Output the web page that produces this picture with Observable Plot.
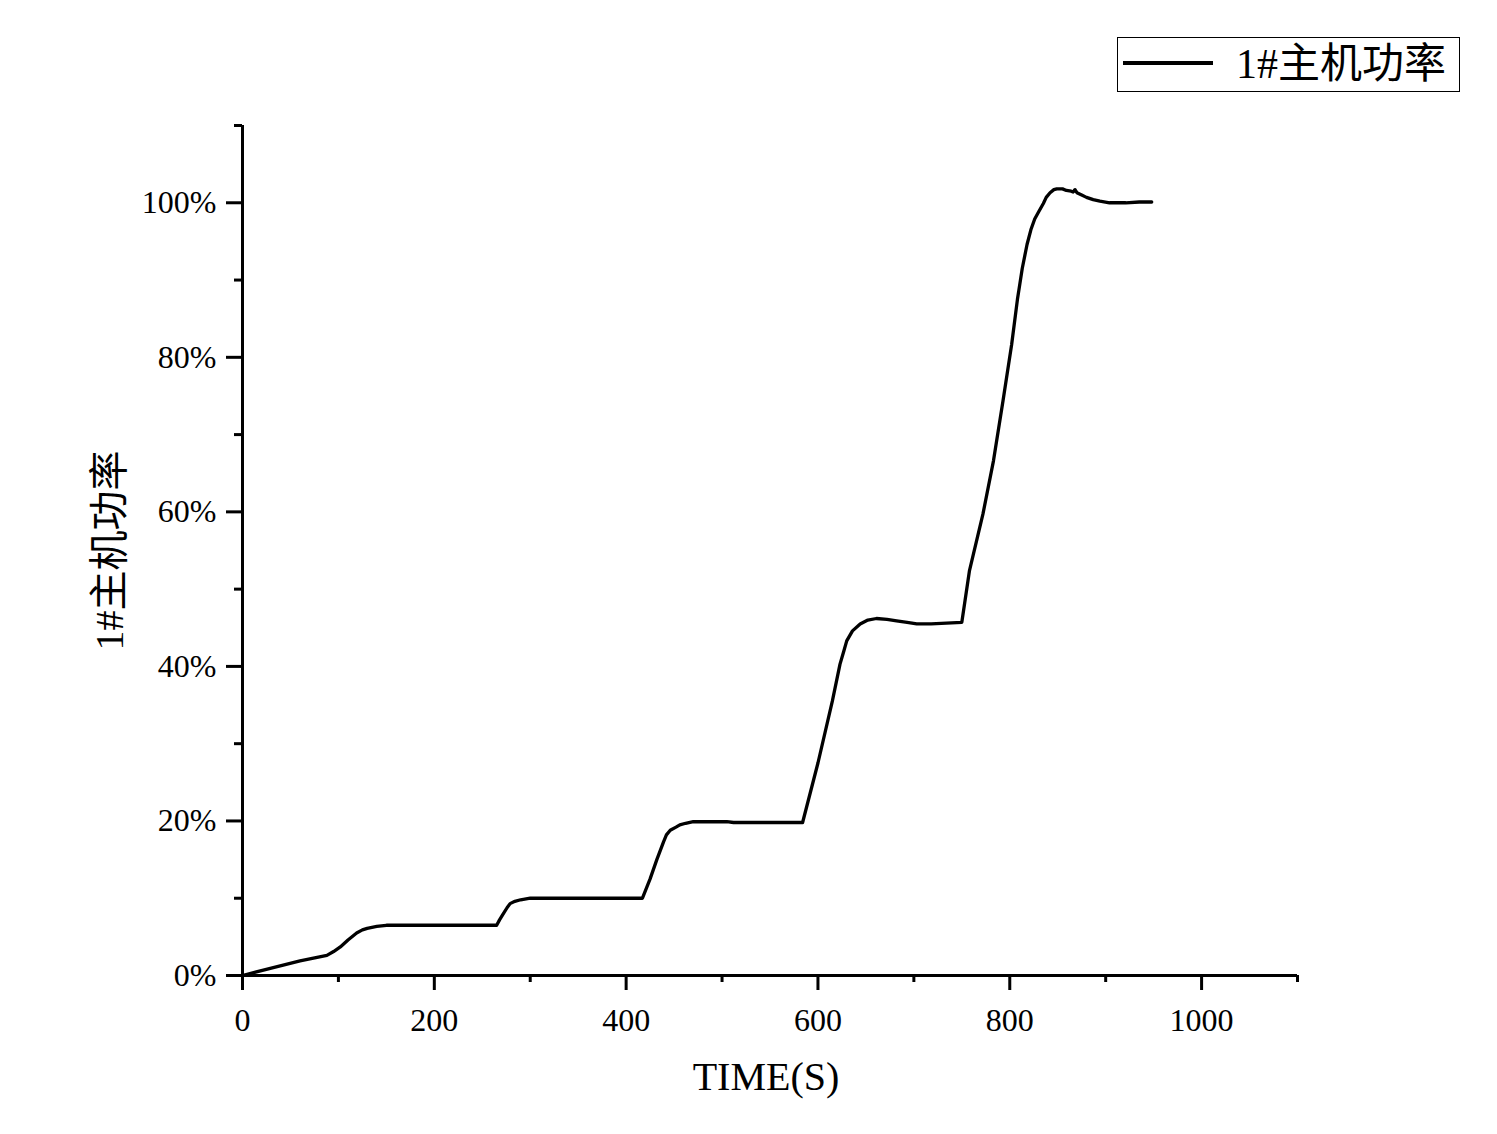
<!DOCTYPE html>
<html>
<head>
<meta charset="utf-8">
<script src="https://cdn.jsdelivr.net/npm/d3@7"></script>
<script src="https://cdn.jsdelivr.net/npm/@observablehq/plot@0.6"></script>
<style>
  html, body { margin: 0; padding: 0; background: #fff; }
  #wrap { position: relative; width: 1497px; height: 1134px; font-family: "Liberation Serif", "Noto Sans CJK SC", serif; }
  #legend { position: absolute; left: 1117px; top: 37px; width: 341px; height: 53px; border: 1px solid #000; background: #fff; }
  #legend .swatch { position: absolute; left: 5px; top: 23px; width: 90px; height: 4px; background: #000; }
  #legend .lbl { position: absolute; left: 118px; top: 0; height: 53px; line-height: 53px; font-size: 42px; color: #000; white-space: nowrap; }
</style>
</head>
<body>
<div id="wrap">
  <div id="chart"></div>
  <div id="legend"><div class="swatch"></div><div class="lbl">1#主机功率</div></div>
</div>
<script>
const seriesName = "1#主机功率";
const xLabel = "TIME(S)";
const yLabel = "1#主机功率";

const time = [0, 30, 60, 88, 95, 102, 110, 119, 125, 130, 140, 150, 170, 265, 268, 272, 276, 279, 284, 290, 300,
  417, 425, 432, 439, 442, 446, 452, 456, 462, 470, 505, 512, 584, 600, 615, 623, 627, 630, 636, 644, 652, 661,
  672, 682, 693, 703, 718, 734, 750, 758, 772, 783, 793, 802, 808, 813, 818, 822, 826, 830, 835, 838, 842, 846, 849,
  855, 859, 864, 866, 868, 870, 875, 880, 887, 894, 904, 921, 935, 948];
const power = [0, 0.95, 1.9, 2.6, 3.1, 3.7, 4.6, 5.5, 5.9, 6.1, 6.35, 6.5, 6.5, 6.5, 7.2, 8.0, 8.8, 9.3, 9.6, 9.8, 10.0,
  10.0, 12.5, 15.0, 17.3, 18.2, 18.8, 19.2, 19.5, 19.7, 19.9, 19.9, 19.8, 19.8, 27.5, 35.5, 40.3, 42.0, 43.3, 44.6, 45.5, 46.0, 46.2,
  46.1, 45.9, 45.7, 45.5, 45.5, 45.6, 45.7, 52.4, 59.7, 66.6, 74.4, 81.7, 87.5, 91.5, 94.6, 96.5, 97.9, 98.8, 99.9, 100.7, 101.3, 101.7, 101.8,
  101.8, 101.6, 101.5, 101.4, 101.7, 101.3, 101.0, 100.7, 100.4, 100.2, 100.0, 100.0, 100.1, 100.1];

const xMajor = [0, 200, 400, 600, 800, 1000];
const xMinor = [100, 300, 500, 700, 900, 1100];
const yMajor = [0, 20, 40, 60, 80, 100];
const yMinor = [10, 30, 50, 70, 90, 110];

const data = time.map((t, i) => ({t, p: power[i]}));

const chart = Plot.plot({
  width: 1497,
  height: 1134,
  marginLeft: 242,
  marginRight: 200,
  marginTop: 125,
  marginBottom: 159,
  style: {fontFamily: "'Liberation Serif', 'Noto Sans CJK SC', serif", fontSize: "32px", color: "#000", background: "#fff"},
  x: {domain: [0, 1100]},
  y: {domain: [0, 110]},
  marks: [
    Plot.axisX(xMajor, {tickSize: 15, tickPadding: 18, strokeWidth: 3, fontSize: 32, label: null, tickFormat: d => `${d}`}),
    Plot.axisX(xMinor, {tickSize: 7, strokeWidth: 3, label: null, tickFormat: () => ""}),
    Plot.axisY(yMajor, {tickSize: 16, tickPadding: 10, strokeWidth: 3, fontSize: 32, label: null, tickFormat: d => `${d}%`}),
    Plot.axisY(yMinor, {tickSize: 8, strokeWidth: 3, label: null, tickFormat: () => ""}),
    Plot.ruleY([0], {strokeWidth: 3}),
    Plot.ruleX([0], {strokeWidth: 3}),
    Plot.line(data, {x: "t", y: "p", stroke: "#000", strokeWidth: 3.3, strokeLinejoin: "round"}),
    Plot.text([xLabel], {text: d => d, frameAnchor: "bottom", dx: -4, dy: 102, fontSize: 40, lineAnchor: "middle", textAnchor: "middle"}),
    Plot.text([yLabel], {text: d => d, frameAnchor: "left", dx: -132, rotate: -90, fontSize: 40, lineAnchor: "middle", textAnchor: "middle"})
  ]
});
document.getElementById("chart").appendChild(chart);
</script>
</body>
</html>
